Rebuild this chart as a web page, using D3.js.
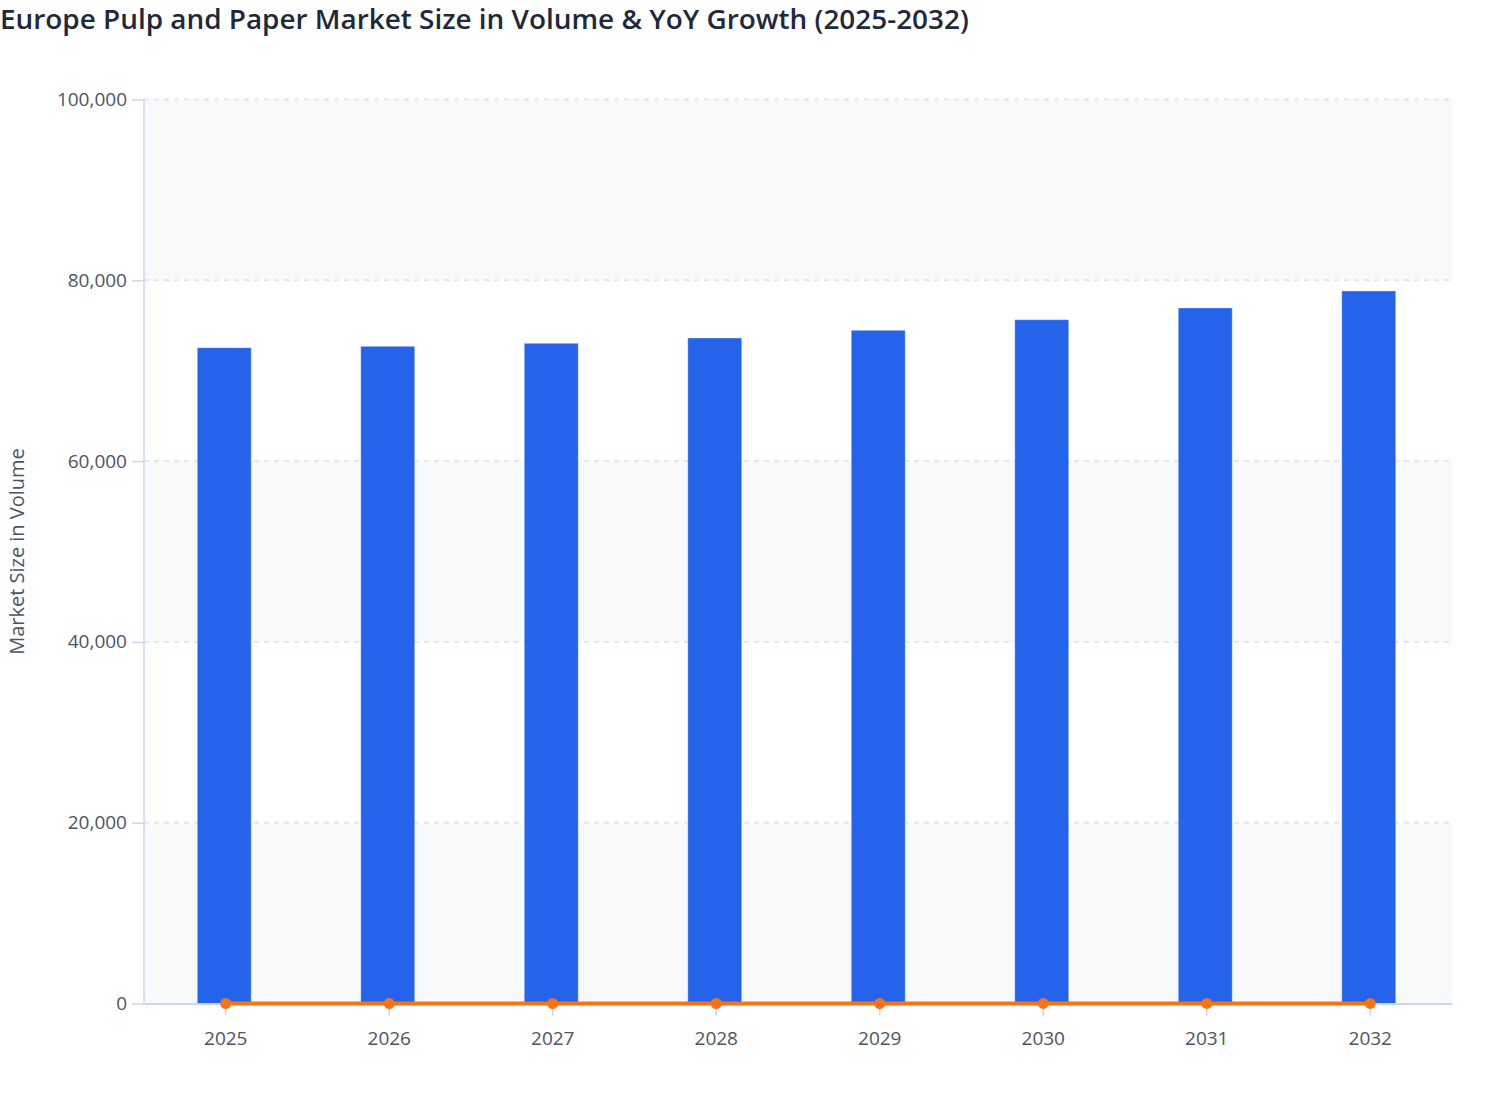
<!DOCTYPE html>
<html>
  <head>
    <title>Europe Pulp and Paper Market</title>
    <script src="https://d3js.org/d3.v7.min.js"></script>
    <style>
      body { margin: 0; background: #fff; }
      text { font-family: "Open Sans", "Noto Sans", sans-serif; }
    </style>
  </head>
  <body>
    <div id="vis"></div>
    <script>
      // values
      var years = ["2025", "2026", "2027", "2028", "2029", "2030", "2031", "2032"];
      var volume = [72540, 72700, 73030, 73620, 74470, 75640, 76940, 78820];
      var yoyGrowth = [0.2, 0.22, 0.45, 0.81, 1.15, 1.57, 1.72, 2.44];
      var yTicks = [0, 20000, 40000, 60000, 80000, 100000];

      var width = 1508;
      var height = 1120;
      var plotLeft = 144, plotRight = 1452, plotTop = 99.5, plotBottom = 1003.5;

      var svg = d3.select("#vis")
        .append("svg")
        .attr("width", width)
        .attr("height", height);

      var x = d3.scaleBand()
        .domain(years)
        .range([plotLeft, plotRight]);

      var y = d3.scaleLinear()
        .domain([0, 100000])
        .range([plotBottom, plotTop]);

      // alternating bands
      var bands = d3.range(yTicks.length - 1);
      svg.append("g")
        .selectAll("rect")
        .data(bands)
        .enter()
        .append("rect")
        .attr("x", plotLeft)
        .attr("width", plotRight - plotLeft)
        .attr("y", function (i) { return y(yTicks[i + 1]); })
        .attr("height", function (i) { return y(yTicks[i]) - y(yTicks[i + 1]); })
        .style("fill", function (i) { return i % 2 == 0 ? "#f8f9fb" : "#ffffff"; });

      // grid lines
      svg.append("g")
        .selectAll("line")
        .data(yTicks.slice(1))
        .enter()
        .append("line")
        .attr("x1", plotLeft)
        .attr("x2", plotRight)
        .attr("y1", function (d) { return y(d); })
        .attr("y2", function (d) { return y(d); })
        .style("stroke", "#e5e7eb")
        .style("stroke-width", 2)
        .style("stroke-dasharray", "5,5");

      // y axis
      var yAxis = svg.append("g")
        .attr("transform", "translate(" + plotLeft + ",0)")
        .call(d3.axisLeft(y).tickValues(yTicks).tickSize(12).tickPadding(5).tickFormat(d3.format(",")));
      yAxis.select(".domain").remove();
      yAxis.selectAll(".tick line").style("stroke", "#ccd6eb").style("stroke-width", 1.5);
      yAxis.selectAll(".tick text")
        .style("font-size", "19px")
        .style("fill", "#4b5563");

      svg.append("line")
        .attr("x1", plotLeft).attr("x2", plotLeft)
        .attr("y1", plotTop).attr("y2", plotBottom)
        .style("stroke", "#ccd6eb")
        .style("stroke-width", 1.5);

      // bars
      var barW = x.bandwidth() * 0.33;
      svg.append("g")
        .selectAll("rect")
        .data(volume)
        .enter()
        .append("rect")
        .attr("x", function (d, i) { return x(years[i]) + x.bandwidth() / 2 - barW / 2 - 1.5; })
        .attr("y", function (d) { return y(d); })
        .attr("width", barW)
        .attr("height", function (d) { return y(0) - y(d); })
        .style("fill", "#2563eb")
        .style("stroke", "#ffffff")
        .style("stroke-opacity", 0.35)
        .style("stroke-width", 1);

      // x axis
      var xAxis = svg.append("g")
        .attr("transform", "translate(0," + plotBottom + ")")
        .call(d3.axisBottom(x).tickSize(12).tickPadding(16).tickSizeOuter(0));
      xAxis.select(".domain").style("stroke", "#ccd6eb").style("stroke-width", 2);
      xAxis.selectAll(".tick line").style("stroke", "#ccd6eb").style("stroke-width", 1.5);
      xAxis.selectAll(".tick text")
        .style("font-size", "19px")
        .style("fill", "#4b5563");

      // YoY growth line (same axis, sits on zero)
      var line = d3.line()
        .x(function (d, i) { return x(years[i]) + x.bandwidth() / 2; })
        .y(function (d) { return y(d); });

      svg.append("path")
        .datum(yoyGrowth)
        .attr("d", line)
        .style("fill", "none")
        .style("stroke", "#f97316")
        .style("stroke-width", 4);

      svg.append("g")
        .selectAll("circle")
        .data(yoyGrowth)
        .enter()
        .append("circle")
        .attr("cx", function (d, i) { return x(years[i]) + x.bandwidth() / 2; })
        .attr("cy", function (d) { return y(d); })
        .attr("r", 5.5)
        .style("fill", "#f97316");

      // titles
      svg.append("text")
        .attr("x", 0)
        .attr("y", 29)
        .style("font-size", "27.9px")
        .style("font-weight", "600")
        .style("fill", "#1e293b")
        .text("Europe Pulp and Paper Market Size in Volume & YoY Growth (2025-2032)");

      svg.append("text")
        .attr("transform", "translate(24," + ((plotTop + plotBottom) / 2) + ") rotate(270)")
        .attr("text-anchor", "middle")
        .style("font-size", "20px")
        .style("fill", "#4b5563")
        .text("Market Size in Volume");
    </script>
  </body>
</html>
